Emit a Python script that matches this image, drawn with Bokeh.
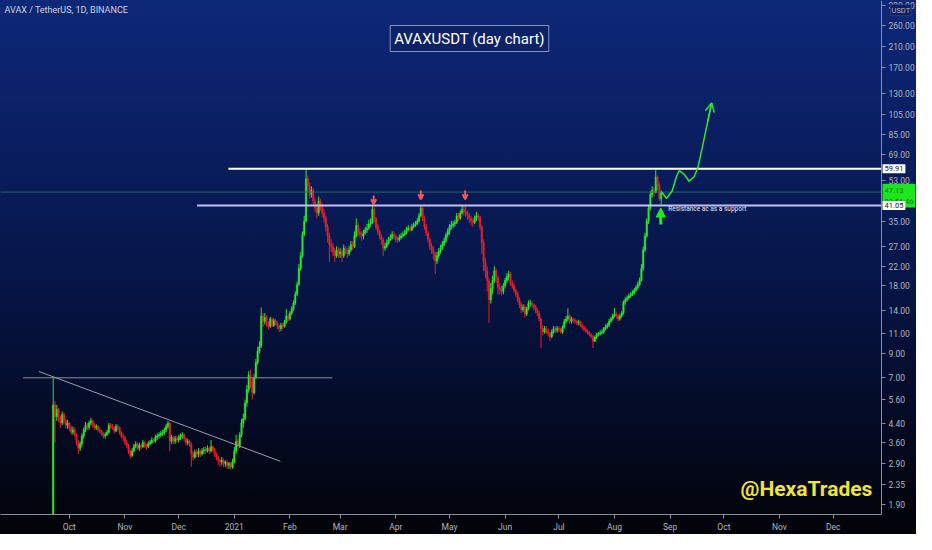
import pandas as pd
from datetime import timedelta
from bokeh.plotting import figure
from bokeh.models import (Range1d, FixedTicker, PrintfTickFormatter, CustomJSTickFormatter,
                          Label, Arrow, OpenHead, NormalHead, ColumnDataSource)
from bokeh.embed import file_html
from bokeh.resources import INLINE

# ---------------- data ----------------
start_date = "2020-09-22"
first_open = 0.85
closes = [
    5.30, 4.70, 5.05, 4.60, 4.40, 4.80, 4.50, 4.30, 4.40, 4.20,
    4.00, 4.10, 3.90, 3.60, 3.40, 3.55, 3.85, 4.10, 4.30, 4.20,
    4.40, 4.50, 4.30, 4.20, 4.25, 4.10, 4.05, 3.95, 3.85, 3.90,
    4.00, 4.30, 4.25, 4.20, 4.05, 4.25, 4.20, 4.00, 3.85, 3.80,
    3.60, 3.50, 3.30, 3.15, 3.30, 3.45, 3.55, 3.40, 3.50, 3.45,
    3.60, 3.50, 3.45, 3.55, 3.60, 3.70, 3.65, 3.80, 3.85, 3.90,
    3.95, 4.00, 4.10, 4.25, 4.40, 3.65, 3.80, 3.65, 3.75, 3.70,
    3.80, 3.85, 3.90, 3.75, 3.60, 3.65, 3.55, 3.20, 3.10, 3.25,
    3.20, 3.30, 3.20, 3.30, 3.35, 3.30, 3.40, 3.30, 3.45, 3.35,
    3.20, 3.10, 3.00, 2.95, 3.00, 2.90, 2.95, 2.85, 2.90, 2.80,
    2.95, 3.30, 3.65, 3.50, 3.90, 4.40, 4.60, 5.40, 6.20, 7.20,
    6.80, 6.00, 7.00, 8.20, 9.20, 9.70, 13.2, 12.5, 13.0, 12.2,
    11.9, 12.8, 12.0, 12.6, 12.3, 11.9, 11.6, 12.0, 11.9, 12.4,
    13.2, 12.8, 13.6, 14.2, 15.1, 16.5, 18.2, 21.5, 24.5, 30.5,
    35.0, 54.0, 50.0, 46.0, 48.0, 43.0, 40.0, 38.0, 43.0, 41.0,
    38.0, 36.0, 33.0, 30.0, 27.5, 27.0, 25.5, 24.5, 26.0, 25.0,
    25.5, 24.5, 26.5, 25.8, 25.0, 26.0, 27.5, 27.0, 30.0, 33.5,
    31.0, 30.5, 30.0, 31.0, 32.0, 32.5, 34.0, 34.4, 39.5, 36.0,
    33.0, 31.5, 30.0, 28.8, 26.5, 27.0, 28.0, 28.8, 29.5, 30.5,
    30.0, 29.0, 28.8, 29.5, 30.0, 30.5, 31.0, 32.0, 32.5, 32.0,
    33.0, 33.5, 34.0, 35.0, 37.0, 40.0, 36.0, 33.0, 31.0, 29.0,
    27.0, 26.0, 25.0, 23.2, 24.5, 25.6, 26.5, 27.5, 28.5, 30.3,
    31.5, 33.0, 33.5, 34.0, 34.5, 37.0, 36.0, 38.0, 39.5, 38.5,
    38.0, 37.0, 36.0, 35.0, 34.5, 36.0, 37.0, 36.5, 33.0, 28.0,
    23.0, 21.0, 19.0, 15.6, 17.5, 19.0, 21.0, 19.5, 17.7, 17.3,
    17.0, 18.0, 19.0, 19.8, 20.3, 18.5, 18.0, 17.2, 16.5, 15.6,
    14.8, 14.1, 14.5, 13.5, 14.2, 15.0, 15.0, 14.8, 14.5, 14.0,
    13.6, 12.8, 11.6, 11.2, 11.6, 11.3, 11.0, 10.7, 11.2, 11.6,
    11.4, 11.6, 11.5, 11.2, 11.8, 12.5, 12.8, 13.2, 12.5, 12.8,
    12.6, 12.5, 12.3, 12.4, 12.0, 11.8, 11.5, 11.3, 11.1, 10.9,
    10.7, 10.2, 10.6, 10.9, 11.0, 11.1, 11.2, 11.6, 11.8, 12.0,
    12.5, 12.8, 13.2, 13.5, 13.2, 12.8, 13.2, 13.6, 15.2, 15.6,
    15.9, 16.2, 16.5, 16.7, 17.2, 17.7, 18.2, 19.0, 21.5, 26.0,
    30.0, 35.0, 40.0, 46.0, 48.0, 47.0, 55.0, 51.0, 44.0, 47.13,
]
highs = [
    7.00, 5.50, 5.30, 5.15, 4.75, 4.95, 4.90, 4.60, 4.55, 4.45,
    4.30, 4.25, 4.20, 3.95, 3.70, 3.65, 3.95, 4.20, 4.45, 4.40,
    4.50, 4.65, 4.55, 4.40, 4.35, 4.30, 4.20, 4.10, 4.00, 4.00,
    4.10, 4.40, 4.40, 4.35, 4.25, 4.35, 4.35, 4.25, 4.05, 3.95,
    3.85, 3.70, 3.55, 3.35, 3.40, 3.55, 3.65, 3.60, 3.60, 3.55,
    3.70, 3.65, 3.55, 3.65, 3.70, 3.80, 3.75, 3.90, 3.95, 4.00,
    4.05, 4.10, 4.20, 4.35, 4.50, 4.45, 3.90, 3.85, 3.85, 3.85,
    3.90, 3.95, 4.00, 3.95, 3.80, 3.75, 3.70, 3.60, 3.30, 3.35,
    3.35, 3.40, 3.35, 3.40, 3.45, 3.45, 3.50, 3.45, 3.70, 3.50,
    3.40, 3.25, 3.15, 3.05, 3.10, 3.05, 3.00, 3.00, 2.95, 2.95,
    3.05, 3.45, 3.90, 3.75, 4.00, 4.60, 4.85, 5.60, 6.50, 7.50,
    7.60, 7.00, 7.30, 8.50, 9.60, 10.2, 14.4, 13.6, 13.6, 13.3,
    12.5, 13.1, 13.0, 12.9, 12.8, 12.5, 12.1, 12.3, 12.3, 12.7,
    14.2, 13.5, 13.9, 14.6, 15.5, 17.0, 18.8, 22.5, 25.5, 31.5,
    37.0, 60.0, 56.0, 52.0, 50.0, 49.0, 44.5, 41.5, 45.0, 44.0,
    42.0, 39.5, 37.0, 34.0, 31.0, 29.0, 28.0, 26.5, 27.0, 26.8,
    26.5, 26.0, 27.5, 27.0, 26.5, 27.0, 28.5, 28.5, 31.5, 36.0,
    34.5, 32.5, 31.5, 32.0, 33.0, 34.0, 35.5, 36.0, 41.0, 40.5,
    36.5, 34.0, 32.0, 30.5, 29.5, 28.0, 29.0, 29.8, 30.5, 31.5,
    31.5, 30.5, 29.8, 30.5, 31.0, 31.5, 32.0, 33.0, 33.5, 33.2,
    34.0, 34.5, 35.0, 36.0, 38.0, 41.0, 40.5, 37.0, 34.0, 31.5,
    29.5, 28.0, 27.0, 25.5, 25.5, 26.5, 27.5, 28.5, 29.5, 31.0,
    32.5, 34.0, 35.0, 35.0, 35.5, 38.0, 38.0, 39.0, 41.0, 41.0,
    41.0, 39.0, 38.0, 37.0, 36.0, 37.0, 38.5, 38.0, 37.0, 33.5,
    29.0, 24.0, 22.0, 19.5, 18.5, 20.0, 22.0, 21.5, 20.0, 18.5,
    18.0, 18.5, 19.5, 20.5, 21.0, 20.8, 19.0, 18.5, 17.5, 17.0,
    16.0, 15.2, 14.9, 14.8, 14.5, 15.5, 15.6, 15.4, 15.0, 14.8,
    14.3, 13.9, 13.0, 12.0, 11.9, 11.9, 11.6, 11.2, 11.5, 11.9,
    11.9, 11.9, 11.9, 11.7, 12.0, 12.8, 13.2, 14.3, 13.4, 13.1,
    13.0, 12.9, 12.7, 12.7, 12.6, 12.2, 12.0, 11.7, 11.5, 11.3,
    11.1, 10.9, 10.8, 11.1, 11.2, 11.4, 11.5, 11.8, 12.1, 12.3,
    12.8, 13.1, 13.5, 14.3, 13.8, 13.4, 13.5, 13.9, 15.5, 16.0,
    16.3, 16.6, 16.9, 17.2, 17.6, 18.1, 18.8, 19.6, 22.5, 27.0,
    31.0, 36.0, 41.5, 47.5, 50.0, 49.5, 59.0, 56.0, 52.0, 48.0,
]
lows = [
    0.85, 3.60, 4.50, 4.45, 4.20, 4.30, 4.35, 4.15, 4.15, 4.05,
    3.90, 3.90, 3.80, 3.50, 3.20, 3.30, 3.45, 3.75, 4.00, 4.10,
    4.10, 4.30, 4.20, 4.10, 4.10, 4.00, 3.95, 3.85, 3.75, 3.75,
    3.85, 3.95, 4.15, 4.10, 3.95, 4.00, 4.10, 3.90, 3.75, 3.65,
    3.50, 3.40, 3.20, 3.05, 3.10, 3.25, 3.40, 3.35, 3.30, 3.35,
    3.40, 3.40, 3.35, 3.40, 3.50, 3.55, 3.55, 3.60, 3.70, 3.75,
    3.80, 3.85, 3.90, 4.00, 4.15, 3.30, 3.55, 3.55, 3.55, 3.60,
    3.60, 3.70, 3.75, 3.65, 3.50, 3.50, 3.45, 2.80, 3.00, 3.05,
    3.10, 3.10, 3.10, 3.15, 3.20, 3.20, 3.25, 3.20, 3.25, 3.25,
    3.10, 3.00, 2.85, 2.80, 2.85, 2.80, 2.80, 2.75, 2.75, 2.72,
    2.75, 2.90, 3.20, 3.30, 3.40, 3.80, 4.20, 4.50, 5.20, 6.00,
    6.30, 5.60, 5.90, 6.90, 8.00, 9.00, 9.50, 11.8, 12.1, 11.8,
    11.5, 11.7, 11.8, 11.8, 12.0, 11.5, 11.2, 11.3, 11.5, 11.7,
    12.2, 12.5, 12.6, 13.3, 13.9, 14.8, 16.2, 18.0, 21.0, 24.0,
    30.0, 34.5, 47.0, 44.0, 44.5, 41.5, 38.5, 36.0, 37.0, 39.0,
    36.5, 34.5, 31.5, 28.0, 23.0, 25.5, 24.5, 23.0, 24.0, 24.0,
    24.0, 23.0, 24.0, 25.0, 24.0, 24.5, 25.5, 26.0, 26.5, 29.5,
    30.0, 29.5, 28.5, 29.0, 30.5, 31.0, 32.0, 33.0, 34.0, 34.5,
    32.0, 30.5, 29.0, 27.5, 24.4, 25.8, 26.5, 27.5, 28.5, 29.0,
    29.0, 28.2, 28.0, 28.3, 29.0, 29.5, 30.0, 30.5, 31.5, 31.2,
    31.5, 32.5, 33.0, 33.5, 34.5, 36.5, 35.0, 32.0, 30.0, 28.0,
    26.0, 25.0, 23.5, 20.3, 22.5, 23.8, 25.0, 26.0, 27.0, 28.0,
    29.5, 30.5, 32.0, 32.5, 33.0, 34.0, 35.0, 35.5, 37.5, 37.0,
    36.5, 35.5, 34.5, 33.5, 33.0, 34.0, 35.0, 35.0, 32.0, 25.0,
    21.0, 19.5, 17.0, 12.3, 15.0, 16.5, 18.5, 18.5, 16.5, 16.5,
    16.3, 16.5, 17.5, 18.5, 19.0, 18.0, 17.5, 16.8, 16.0, 15.2,
    14.3, 13.6, 13.8, 13.0, 13.2, 14.0, 14.5, 14.3, 14.0, 13.6,
    13.2, 12.5, 9.5, 10.8, 11.0, 11.0, 10.7, 10.2, 10.5, 11.0,
    11.1, 11.1, 11.2, 11.0, 11.0, 11.6, 12.2, 12.5, 12.2, 12.2,
    12.3, 12.2, 12.0, 12.0, 11.8, 11.5, 11.3, 11.1, 10.9, 10.7,
    10.5, 9.5, 10.1, 10.4, 10.7, 10.8, 10.9, 11.0, 11.4, 11.6,
    11.8, 12.3, 12.6, 13.0, 12.9, 12.5, 12.6, 13.0, 13.4, 14.8,
    15.3, 15.6, 15.9, 16.2, 16.4, 16.9, 17.3, 17.9, 18.8, 21.0,
    25.5, 29.5, 34.0, 39.0, 44.5, 45.0, 46.5, 48.0, 43.0, 41.5,
]

y_ticks = [1.9, 2.35, 2.9, 3.6, 4.4, 5.6, 7, 9, 11, 14, 18, 22, 27, 35,
           53, 69, 85, 105, 130, 170, 210, 260, 320]
month_starts = ["2020-10-01", "2020-11-01", "2020-12-01", "2021-01-01", "2021-02-01",
                "2021-03-01", "2021-04-01", "2021-05-01", "2021-06-01", "2021-07-01",
                "2021-08-01", "2021-09-01", "2021-10-01", "2021-11-01", "2021-12-01"]
month_labels = ["Oct", "Nov", "Dec", "2021", "Feb", "Mar", "Apr", "May", "Jun", "Jul",
                "Aug", "Sep", "Oct", "Nov", "Dec"]

resistance = 59.91
support = 41.05
last_price = 47.13
last_time = "09:56:46"
currency = "USDT"

# drawn annotations (day offsets from start_date, prices)
old_high_level = 7.0
old_high_days = (-16.8, 155.7)
trend_days = (-8.0, 126.7)
trend_prices = (7.47, 2.97)
resistance_from_day = 97.7
support_from_day = 80.2
red_arrow_days = [178.7, 205.0, 229.7]
red_arrow_tops = [45.5, 47.9, 47.9]
red_arrow_tips = [41.6, 43.8, 43.8]
up_arrow_day = 338.8
up_arrow_prices = (33.8, 40.0)
note_day = 343.0
note_price = 39.6
proj_days = [339.2, 342.0, 345.2, 347.4, 349.1, 351.8, 354.6, 357.3, 359.5, 362.2, 365.0, 367.2]
proj_prices = [47.3, 44.1, 47.8, 54.9, 58.8, 56.6, 52.7, 54.9, 60.6, 76.1, 97.5, 117.8]

# ---------------- styling ----------------
GREEN = "#2fe62f"
RED = "#e3202a"
AXIS_TXT = "#b2b5be"
AXIS_LINE = "#8d909a"
W, H = 916, 534
BB = 18
FH = H - BB

t0 = pd.Timestamp(start_date)
def day(d):
    return t0 + timedelta(days=d)

dates = pd.date_range(start_date, periods=len(closes), freq="D")
opens = [first_open] + closes[:-1]
colors = [GREEN if c >= o else RED for o, c in zip(opens, closes)]
src = ColumnDataSource(dict(
    x=dates, o=opens, h=highs, l=lows, c=closes,
    top=[max(o, c) for o, c in zip(opens, closes)],
    bottom=[min(o, c) for o, c in zip(opens, closes)],
    color=colors))

# the frame spans the whole width; the price scale is pinned at axis_day
x_start = day(-29.4)
axis_day = day(461.9)
x_end = day(481.4)
axis_ms = axis_day.value / 1e6

p = figure(width=W, height=H, x_axis_type="datetime", y_axis_type="log",
           y_axis_location="right",
           x_range=Range1d(x_start, x_end), y_range=Range1d(1.72, 337),
           output_backend="svg", toolbar_location=None, title=None,
           min_border_left=0, min_border_top=0, min_border_right=0, min_border_bottom=BB)
p.background_fill_alpha = 0
p.border_fill_alpha = 0
p.outline_line_color = None
p.grid.visible = False
p.styles = {"background-image":
            "linear-gradient(180deg, #0e2878 0%, #0a1f62 25%, #07164a 50%, #040c29 75%, #020308 100%)"}

# axes
p.yaxis.fixed_location = axis_ms
p.yaxis.ticker = FixedTicker(ticks=y_ticks)
p.yaxis.formatter = PrintfTickFormatter(format="%.2f")
month_ms = [pd.Timestamp(m).value // 10**6 for m in month_starts]
p.xaxis.ticker = FixedTicker(ticks=month_ms)
p.xaxis.bounds = (x_start, axis_day)
p.xaxis.formatter = CustomJSTickFormatter(
    args=dict(ticks_ms=month_ms, names=month_labels),
    code="const i = ticks_ms.indexOf(tick); return i >= 0 ? names[i] : '';")
for ax in (p.xaxis, p.yaxis):
    ax.axis_line_color = AXIS_LINE
    ax.major_tick_line_color = AXIS_LINE
    ax.minor_tick_line_color = None
    ax.major_tick_in = 0
    ax.major_tick_out = 4
    ax.major_label_text_color = AXIS_TXT
    ax.major_label_text_font = "Roboto"
    ax.major_label_text_font_size = "8.5px"
    ax.major_label_standoff = 3

# candles
p.segment(x0="x", y0="l", x1="x", y1="h", line_color="color", line_width=1, source=src)
p.vbar(x="x", width=0.8 * 86400000, top="top", bottom="bottom",
       fill_color="color", line_color="color", line_width=0.5, source=src)

# drawn lines
p.segment(x0=[x_start], y0=[last_price], x1=[axis_day], y1=[last_price],
          line_color="#2f6e60", line_width=1, line_alpha=0.9)
p.segment(x0=[day(old_high_days[0])], y0=[old_high_level], x1=[day(old_high_days[1])],
          y1=[old_high_level], line_color="#8a8d96", line_width=1)
p.segment(x0=[day(trend_days[0])], y0=[trend_prices[0]], x1=[day(trend_days[1])],
          y1=[trend_prices[1]], line_color="#9a9da6", line_width=1)
p.segment(x0=[day(resistance_from_day)], y0=[resistance], x1=[axis_day], y1=[resistance],
          line_color="#ffffff", line_width=2)
p.segment(x0=[day(support_from_day)], y0=[support], x1=[axis_day], y1=[support],
          line_color="#c4bff2", line_width=2)

# red arrows
for d, y0, y1 in zip(red_arrow_days, red_arrow_tops, red_arrow_tips):
    p.add_layout(Arrow(x_start=day(d), y_start=y0, x_end=day(d), y_end=y1,
                       line_color="#f2585d", line_width=2,
                       end=OpenHead(size=5, line_color="#f2585d", line_width=2)))

# green up arrow
p.add_layout(Arrow(x_start=day(up_arrow_day), y_start=up_arrow_prices[0],
                   x_end=day(up_arrow_day), y_end=up_arrow_prices[1],
                   line_color="#19f019", line_width=3,
                   end=NormalHead(size=9, fill_color="#19f019", line_color="#19f019")))

# projection curve
p.line([day(d) for d in proj_days], proj_prices, line_color="#2fe62f", line_width=1.5)
p.add_layout(Arrow(x_start=day(proj_days[-2]), y_start=proj_prices[-2],
                   x_end=day(proj_days[-1]), y_end=proj_prices[-1],
                   line_color="#2fe62f", line_width=1.5,
                   end=OpenHead(size=9, line_color="#2fe62f", line_width=1.5)))

p.add_layout(Label(x=day(note_day), y=note_price, text="Resistance ac as a support",
                   text_color="#e8e8e8", text_font="Roboto", text_font_size="6.5px",
                   text_baseline="middle", text_align="left"))

# title box
p.add_layout(Label(x=469, y=476, x_units="screen", y_units="screen",
                   text="AVAXUSDT (day chart)", text_color="#ffffff", text_font="Roboto",
                   text_font_size="15px", text_align="center", text_baseline="middle",
                   background_fill_color="#0c2266", border_line_color="#8494c4",
                   border_line_width=1, padding=4))
# top-left symbol description
p.add_layout(Label(x=4, y=FH - 11, x_units="screen", y_units="screen",
                   text="AVAX / TetherUS, 1D, BINANCE", text_color="#d1d4dc",
                   text_font="Roboto", text_font_size="9px", text_baseline="middle"))
# watermark
p.add_layout(Label(x=806, y=26, x_units="screen", y_units="screen",
                   text="@HexaTrades", text_color="#f2e33a", text_font="Roboto",
                   text_font_size="21px", text_font_style="bold",
                   text_align="center", text_baseline="middle"))

# price boxes on the price scale
def price_box(y, text, fill, color, dx=1, pad=2, size="7.5px", border=None):
    p.add_layout(Label(x=axis_day, y=y, x_offset=dx, text=text, text_color=color,
                       text_font="Roboto", text_font_size=size, text_baseline="middle",
                       text_align="left", background_fill_color=fill,
                       border_line_color=border, padding=pad))

price_box(305, currency, "#0c2060", AXIS_TXT, dx=9, pad=1, border="#2c3e78")
price_box(45.4, f"{last_price:.2f}\n{last_time}", "#1ee61e", "#127a12", pad=2)
price_box(resistance, f"{resistance:.2f}", "#ffffff", "#131722")
price_box(support, f"{support:.2f}", "#ffffff", "#131722")

open("out.html", "w").write(file_html(p, INLINE))
